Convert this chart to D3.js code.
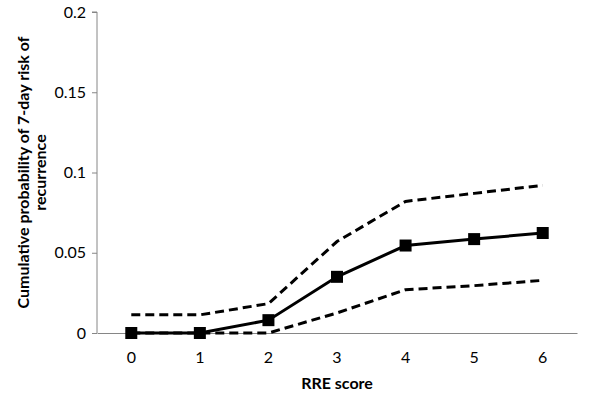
<!DOCTYPE html>
<html>
<head>
<meta charset="utf-8">
<script src="https://cdn.jsdelivr.net/npm/d3@7"></script>
<style>
  body { margin: 0; background: #fff; }
  text { font-family: Lato, "Open Sans", sans-serif; fill: #000; }
</style>
</head>
<body>
<div id="chart"></div>
<script>
// data
const scores = ["0", "1", "2", "3", "4", "5", "6"];
const estimate = [0, 0, 0.008, 0.035, 0.0545, 0.0585, 0.0623];
const upperCI = [0.0113, 0.0113, 0.0183, 0.057, 0.082, 0.087, 0.092];
const lowerCI = [0, 0, 0, 0.0125, 0.027, 0.0295, 0.0328];
const yTicks = [0, 0.05, 0.1, 0.15, 0.2];

const width = 600, height = 401;
const margin = {top: 12, right: 23, bottom: 68, left: 97};

const svg = d3.select("#chart").append("svg")
    .attr("width", width)
    .attr("height", height);

const x = d3.scaleBand()
    .domain(scores)
    .range([margin.left, width - margin.right]);

const y = d3.scaleLinear()
    .domain([0, 0.2])
    .range([height - margin.bottom, margin.top]);

// y axis
const yAxis = svg.append("g")
    .attr("transform", `translate(${margin.left},0)`)
    .call(d3.axisLeft(y).tickValues(yTicks).tickSize(5).tickPadding(6)
        .tickFormat(d => d === 0 ? "0" : String(d)));
yAxis.selectAll("path, line").attr("stroke", "#868686");
yAxis.selectAll("text").style("font-size", "16px").attr("fill", "#000");
yAxis.select(".domain").attr("d", `M-5,${y(0.2)}H0V${y(0)}`);

// x axis
const xAxis = svg.append("g")
    .attr("transform", `translate(0,${y(0)})`)
    .call(d3.axisBottom(x).tickSize(0).tickPadding(19));
xAxis.selectAll("path").attr("stroke", "#868686");
xAxis.selectAll("text").style("font-size", "16px").attr("fill", "#000");

const line = d3.line()
    .x((d, i) => x(scores[i]) + x.bandwidth() / 2)
    .y(d => y(d));

// confidence bands
[upperCI, lowerCI].forEach(s => {
    svg.append("path")
        .attr("d", line(s))
        .attr("fill", "none")
        .attr("stroke", "#000")
        .attr("stroke-width", 3)
        .attr("stroke-dasharray", "9,5");
});

// main estimate
svg.append("path")
    .attr("d", line(estimate))
    .attr("fill", "none")
    .attr("stroke", "#000")
    .attr("stroke-width", 3);

svg.append("g").selectAll("rect")
    .data(estimate)
    .join("rect")
    .attr("x", (d, i) => x(scores[i]) + x.bandwidth() / 2 - 6)
    .attr("y", d => y(d) - 6)
    .attr("width", 12)
    .attr("height", 12)
    .attr("fill", "#000");

// axis titles
const yTitle = svg.append("text")
    .attr("transform", `translate(31,${(y(0) + y(0.2)) / 2}) rotate(-90)`)
    .attr("text-anchor", "middle")
    .style("font-size", "16px")
    .style("font-weight", "bold");
yTitle.append("tspan").attr("x", 0).attr("dy", "-0.15em").text("Cumulative probability of 7-day risk of");
yTitle.append("tspan").attr("x", 0).attr("dy", "1.1em").text("recurrence");

svg.append("text")
    .attr("x", (margin.left + width - margin.right) / 2)
    .attr("y", 389)
    .attr("text-anchor", "middle")
    .style("font-size", "16px")
    .style("font-weight", "bold")
    .text("RRE score");
</script>
</body>
</html>
